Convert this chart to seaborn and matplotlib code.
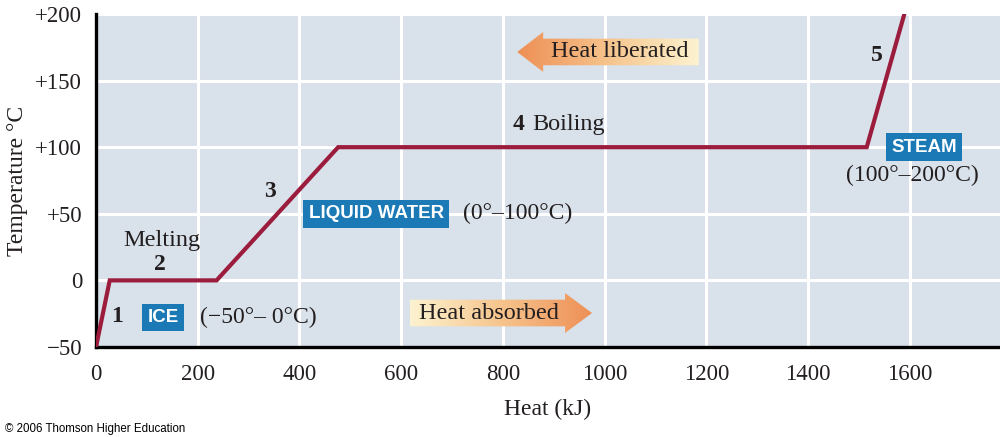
import numpy as np
import pandas as pd
import matplotlib.pyplot as plt
import seaborn as sns
from matplotlib.patches import Polygon

# heating curve of water
heat_kj = [0, 27, 237, 476, 1515, 1589]
temp_c = [-50, 0, 0, 100, 100, 200]

x_ticks = [0, 200, 400, 600, 800, 1000, 1200, 1400, 1600]
y_ticks = [-50, 0, 50, 100, 150, 200]
y_tick_labels = ['\u221250', '0', '+50', '+100', '+150', '+200']

# phase boxes: label, x, y, range text, range x, range y
phase_names = ['ICE', 'LIQUID WATER', 'STEAM']
phase_x = [132, 551, 1628]
phase_y = [-28, 50, 100]
range_texts = ['(\u221250\u00b0\u2013 0\u00b0C)', '(0\u00b0\u2013100\u00b0C)', '(100\u00b0\u2013200\u00b0C)']
range_x = [205, 722, 1605]
range_y = [-28, 50, 79]

# segment numbers
seg_labels = ['1', '2', '3', '5']
seg_x = [41, 126, 342, 1534]
seg_y = [-27, 12, 67, 169]

bg = '#d9e1ea'
line_col = '#9b1c3d'
box_col = '#1b7ab6'
ink = '#231f20'

sns.set_style('white', {'axes.facecolor': bg, 'grid.color': 'white'})
plt.rcParams['font.family'] = ['Liberation Serif', 'DejaVu Serif']

fig = plt.figure(figsize=(10, 4.37), dpi=100)
ax = fig.add_axes([0.096, 0.206, 0.904, 0.762])

df = pd.DataFrame({'heat': heat_kj, 'temp': temp_c})
sns.lineplot(data=df, x='heat', y='temp', ax=ax, color=line_col, lw=3.0,
             sort=False, zorder=4, solid_joinstyle='miter')

ax.set_xlim(0, 1777)
ax.set_ylim(-50, 200)
ax.set_xticks(x_ticks)
ax.set_yticks(y_ticks)
ax.set_yticklabels(y_tick_labels)
ax.grid(True, color='white', lw=2.2)
ax.set_axisbelow(True)
for s in ['top', 'right']:
    ax.spines[s].set_visible(False)
for s in ['left', 'bottom']:
    ax.spines[s].set_color('black')
    ax.spines[s].set_linewidth(2.4)
ax.tick_params(axis='both', direction='in', length=7, width=2, color='black',
               labelsize=16.5, labelcolor=ink)
ax.tick_params(axis='y', pad=10)
ax.tick_params(axis='x', pad=12)
ax.set_xlabel('Heat (kJ)', fontsize=17, color=ink, labelpad=10)
ax.set_ylabel('Temperature \u00b0C', fontsize=17, color=ink, labelpad=5)


def grad_arrow(x_tail, x_tip, yc, body, head, head_len, text):
    d = 1 if x_tip > x_tail else -1
    xh = x_tip - d * head_len
    pts = [(x_tail, yc - body), (xh, yc - body), (xh, yc - head), (x_tip, yc),
           (xh, yc + head), (xh, yc + body), (x_tail, yc + body)]
    poly = Polygon(pts, closed=True, facecolor='none', edgecolor='none')
    ax.add_patch(poly)
    g = np.linspace(0, 1, 256).reshape(1, -1)
    if d < 0:
        g = g[:, ::-1]
    x0, x1 = min(x_tail, x_tip), max(x_tail, x_tip)
    cmap = sns.blend_palette(['#fdf3d0', '#f6c48c', '#ee8f55'], as_cmap=True)
    im = ax.imshow(g, extent=[x0, x1, yc - head, yc + head], aspect='auto',
                   cmap=cmap, zorder=3, interpolation='bilinear')
    im.set_clip_path(poly)
    tx = (x_tail + xh) / 2 + d * 3
    ax.text(tx, yc, text, ha='center', va='center', fontsize=17.5, color=ink, zorder=5)


grad_arrow(1185, 828, 171.5, 10, 15, 51, 'Heat liberated')
grad_arrow(617, 975, -24.5, 10, 15, 53, 'Heat absorbed')
ax.set_xlim(0, 1777)
ax.set_ylim(-50, 200)

for name, px, py in zip(phase_names, phase_x, phase_y):
    ax.text(px, py, name, ha='center', va='center', fontsize=13.5, fontweight='bold',
            family='Liberation Sans', color='white', zorder=6,
            bbox=dict(boxstyle='square,pad=0.28', fc=box_col, ec='none'))
for t, px, py in zip(range_texts, range_x, range_y):
    ha = 'center' if t.startswith('(100') else 'left'
    ax.text(px, py, t, ha=ha, va='center', fontsize=17, color=ink, zorder=6)

for t, px, py in zip(seg_labels, seg_x, seg_y):
    ax.text(px, py, t, ha='center', va='center', fontsize=17, fontweight='bold',
            color=ink, zorder=6)
ax.text(130, 30, 'Melting', ha='center', va='center', fontsize=17.5, color=ink, zorder=6)
ax.text(830, 117, '4', ha='center', va='center', fontsize=17, fontweight='bold', color=ink, zorder=6)
ax.text(857, 117, 'Boiling', ha='left', va='center', fontsize=17.5, color=ink, zorder=6)

fig.text(0.005, 0.004, '\u00a9 2006 Thomson Higher Education', fontsize=8.3,
         family='Liberation Sans', color='black', ha='left', va='bottom')

fig.savefig('out.png', dpi=100)
